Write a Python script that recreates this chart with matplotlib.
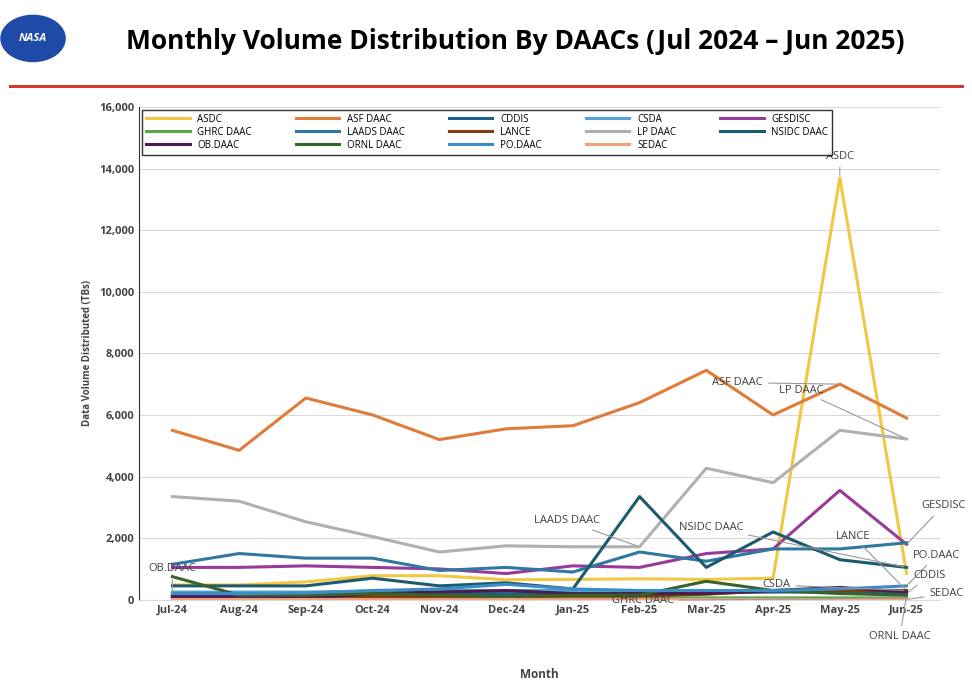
import matplotlib.pyplot as plt
from matplotlib.patches import Circle

plt.rcParams['font.family'] = ['Open Sans', 'DejaVu Sans']

months = ['Jul-24', 'Aug-24', 'Sep-24', 'Oct-24', 'Nov-24', 'Dec-24',
          'Jan-25', 'Feb-25', 'Mar-25', 'Apr-25', 'May-25', 'Jun-25']

asdc = [480, 480, 580, 780, 780, 650, 660, 680, 660, 700, 13700, 850]
asf = [5500, 4850, 6550, 6000, 5200, 5550, 5650, 6400, 7450, 6000, 7000, 5900]
cddis = [150, 150, 150, 180, 200, 200, 200, 220, 220, 250, 250, 200]
csda = [250, 250, 250, 280, 300, 300, 300, 300, 300, 300, 320, 300]
gesdisc = [1050, 1050, 1100, 1050, 1000, 850, 1100, 1050, 1500, 1650, 3550, 1800]
ghrc = [50, 50, 50, 50, 50, 50, 60, 60, 60, 60, 60, 60]
laads = [1150, 1500, 1350, 1350, 950, 1050, 900, 1550, 1250, 1650, 1650, 1850]
lance = [80, 80, 80, 100, 100, 100, 120, 120, 180, 300, 300, 300]
lp = [3350, 3200, 2530, 2050, 1550, 1750, 1720, 1720, 4270, 3800, 5500, 5220]
nsidc = [450, 450, 450, 700, 450, 550, 350, 3350, 1050, 2200, 1300, 1050]
obdaac = [100, 100, 50, 200, 250, 300, 200, 200, 200, 300, 400, 250]
ornl = [750, 150, 150, 200, 150, 100, 150, 150, 600, 300, 200, 150]
podaac = [200, 200, 220, 300, 350, 500, 350, 300, 300, 300, 350, 450]
sedac = [10, 10, 10, 10, 10, 10, 10, 10, 10, 10, 10, 10]

names = ['ASDC', 'ASF DAAC', 'CDDIS', 'CSDA', 'GESDISC', 'GHRC DAAC', 'LAADS DAAC',
         'LANCE', 'LP DAAC', 'NSIDC DAAC', 'OB.DAAC', 'ORNL DAAC', 'PO.DAAC', 'SEDAC']
series = [asdc, asf, cddis, csda, gesdisc, ghrc, laads, lance, lp, nsidc,
          obdaac, ornl, podaac, sedac]
colors = ['#f2c744', '#e07b39', '#1f5f8b', '#4ea6d6', '#983a97', '#5aa844',
          '#2f78a3', '#843c0c', '#b0b0b0', '#1d5a6e', '#4b1d4f', '#38632b',
          '#3d8cc4', '#f0a07a']

fig = plt.figure(figsize=(9.72, 6.99), dpi=100)

# header
fig.text(0.53, 0.94, 'Monthly Volume Distribution By DAACs (Jul 2024 – Jun 2025)',
         ha='center', va='center', fontsize=19, fontweight='bold')
fig.add_artist(plt.Line2D([0.01, 0.99], [0.877, 0.877], color='#d03a2f', lw=2.2))
fig.add_artist(Circle((0.034, 0.945), 0.033, transform=fig.transFigure,
                      color='#1f4aa8'))
fig.text(0.034, 0.945, 'NASA', ha='center', va='center', color='white',
         fontsize=8, fontweight='bold', style='italic')

ax = fig.add_axes([0.143, 0.142, 0.824, 0.705])
x = range(len(months))
lines = []
for name, vals, c in zip(names, series, colors):
    lines += ax.plot(x, vals, color=c, lw=2.2, label=name)

ax.set_xlim(-0.5, 11.5)
ax.set_ylim(0, 16000)
ax.set_yticks(range(0, 16001, 2000))
ax.set_yticklabels([f'{v:,}' for v in range(0, 16001, 2000)], fontsize=8, fontweight='bold', color='#444')
ax.set_xticks(list(x))
ax.set_xticklabels(months, fontsize=8, fontweight='bold', color='#444')
ax.tick_params(length=0)
ax.grid(axis='y', color='#d9d9d9', lw=0.8)
ax.set_axisbelow(True)
for s in ['top', 'right']:
    ax.spines[s].set_visible(False)
ax.spines['left'].set_color('#333')
ax.spines['bottom'].set_color('#d9d9d9')
ax.set_ylabel('Data Volume Distributed (TBs)', fontsize=7, fontweight='bold', color='#444')
ax.set_xlabel('Month', fontsize=8.5, fontweight='bold', color='#444', labelpad=38)

# legend filled row by row (5 columns)
ncol = 5
nrow = 3
order = []
for c in range(ncol):
    for r in range(nrow):
        i = r * ncol + c
        if i < len(lines):
            order.append(i)
leg = ax.legend([lines[i] for i in order], [names[i] for i in order],
                loc='upper left', ncol=ncol, fontsize=7, frameon=True, fancybox=False,
                edgecolor='black', handlelength=4.5, columnspacing=4.5,
                borderaxespad=0.3, labelspacing=0.2)
leg.get_frame().set_linewidth(1)

# data labels with leader lines
ann = [('ASDC', 10, 13700, 10, 14400, 'center'),
       ('ASF DAAC', 10, 7000, 8.85, 7050, 'right'),
       ('LP DAAC', 11, 5220, 9.75, 6800, 'right'),
       ('GESDISC', 11, 1800, 11.55, 3050, 'center'),
       ('LANCE', 11, 300, 10.2, 2050, 'center'),
       ('NSIDC DAAC', 11, 1050, 8.55, 2350, 'right'),
       ('PO.DAAC', 11, 450, 11.45, 1450, 'center'),
       ('CDDIS', 11, 200, 11.35, 800, 'center'),
       ('SEDAC', 11, 10, 11.6, 200, 'center'),
       ('CSDA', 11, 300, 9.05, 480, 'center'),
       ('ORNL DAAC', 11, 150, 10.9, -1200, 'center'),
       ('GHRC DAAC', 11, 60, 7.05, -20, 'center'),
       ('LAADS DAAC', 7, 1720, 6.4, 2560, 'right'),
       ('OB.DAAC', 0, 100, 0.0, 1000, 'center')]
for txt, px, py, tx, ty, ha in ann:
    ax.annotate(txt, xy=(px, py), xytext=(tx, ty), ha=ha, va='center', fontsize=8,
                color='#404040', annotation_clip=False,
                arrowprops=dict(arrowstyle='-', color='#999', lw=0.8))

plt.savefig('out.png', dpi=100)
